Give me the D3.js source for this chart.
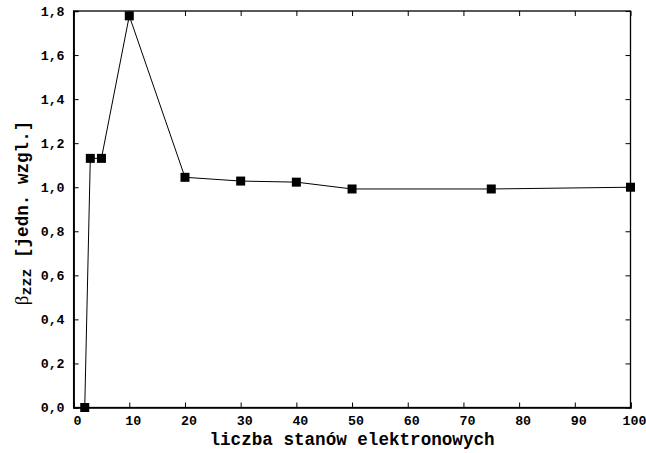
<!DOCTYPE html>
<meta charset="utf-8">
<style>
body {
  margin: 0;
  background: #fff;
}
.tick text {
  font: bold 13.3px "Liberation Mono", monospace;
  fill: #000;
}
.axis path, .axis line {
  stroke: #000;
}
.title {
  font: bold 17.6px "Liberation Mono", monospace;
  fill: #000;
}
</style>
<body>
<svg width="646" height="453"></svg>
<script src="https://d3js.org/d3.v7.min.js"></script>
<script>
// liczba stanow vs beta_zzz
var states = [2, 3, 5, 10, 20, 30, 40, 50, 75, 100];
var beta = [0.0, 1.131, 1.131, 1.778, 1.045, 1.028, 1.023, 0.992, 0.992, 1.0];
var xTicks = [0, 10, 20, 30, 40, 50, 60, 70, 80, 90, 100];
var yTicks = [0, 0.2, 0.4, 0.6, 0.8, 1.0, 1.2, 1.4, 1.6, 1.8];

var svg = d3.select("svg"),
    margin = {top: 11, right: 15.5, bottom: 45.5, left: 73.6},
    width = +svg.attr("width") - margin.left - margin.right,
    height = +svg.attr("height") - margin.top - margin.bottom;

var x = d3.scaleLinear().domain([0, 100]).range([0, width]),
    y = d3.scaleLinear().domain([0, 1.8]).range([height, 0]);

var fmt = function(d) { return d3.format(".1f")(d).replace(".", ","); };

var g = svg.append("g")
    .attr("transform", "translate(" + margin.left + "," + margin.top + ")");

// frame
g.append("rect")
    .attr("width", width)
    .attr("height", height)
    .attr("fill", "none")
    .attr("stroke", "#000")
    .attr("stroke-width", 1.3);

// bottom axis, ticks pointing in
var xa = g.append("g")
    .attr("class", "axis")
    .attr("transform", "translate(0," + height + ")")
    .call(d3.axisBottom(x).tickValues(xTicks).tickSize(-5).tickPadding(8).tickFormat(d3.format("d")));
xa.select(".domain").attr("stroke-width", 1.6);
xa.selectAll("text").attr("dx", 3.5);

g.append("g")
    .attr("class", "axis")
    .call(d3.axisTop(x).tickValues(xTicks).tickSize(-5).tickFormat(""))
    .select(".domain").remove();

var ya = g.append("g")
    .attr("class", "axis")
    .call(d3.axisLeft(y).tickValues(yTicks).tickSize(-5).tickPadding(9).tickFormat(fmt));
ya.select(".domain").attr("stroke-width", 1.6);

g.append("g")
    .attr("class", "axis")
    .attr("transform", "translate(" + width + ",0)")
    .call(d3.axisRight(y).tickValues(yTicks).tickSize(-5).tickFormat(""))
    .select(".domain").remove();

// data line
var pts = states.map(function(s, i) { return [s, beta[i]]; });

g.append("path")
    .datum(pts)
    .attr("fill", "none")
    .attr("stroke", "#000")
    .attr("stroke-width", 1)
    .attr("d", d3.line()
      .x(function(d) { return x(d[0]); })
      .y(function(d) { return y(d[1]); }));

g.selectAll(".pt")
    .data(pts)
    .enter().append("rect")
      .attr("class", "pt")
      .attr("x", function(d) { return x(d[0]) - 4.5; })
      .attr("y", function(d) { return y(d[1]) - 4.5; })
      .attr("width", 9)
      .attr("height", 9)
      .attr("fill", "#000");

// axis titles
svg.append("text")
    .attr("class", "title")
    .attr("x", margin.left + width / 2)
    .attr("y", 445)
    .attr("text-anchor", "middle")
    .text("liczba stanów elektronowych");

var yt = svg.append("text")
    .attr("class", "title")
    .attr("transform", "translate(28,213) rotate(-90)")
    .attr("text-anchor", "middle");
yt.append("tspan")
    .style("font-family", "'Liberation Serif', serif")
    .style("font-weight", "normal")
    .style("font-size", "19px")
    .text("β");
yt.append("tspan")
    .attr("dy", 3)
    .style("font-size", "15px")
    .text("zzz");
yt.append("tspan")
    .attr("dy", -3)
    .text(" [jedn. wzgl.]");
</script>
</body>
